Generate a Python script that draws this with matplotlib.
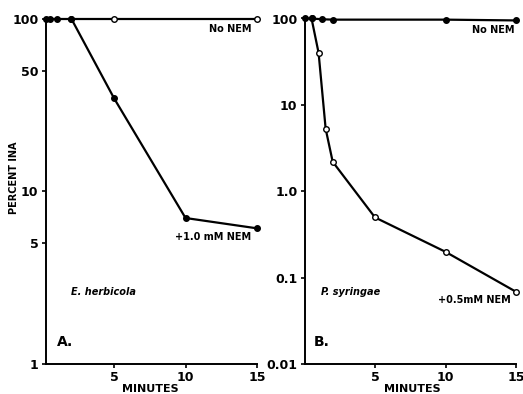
import matplotlib.pyplot as plt
from matplotlib.ticker import FixedLocator, FixedFormatter, NullLocator

# panel A: E. herbicola
a_ctrl_t = [0.25, 0.5, 1.0, 2.0, 5.0, 15.0]
a_ctrl_v = [100, 100, 100, 100, 100, 100]
a_ctrl_open = [False, False, False, False, True, True]
a_nem_t = [2.0, 5.0, 10.0, 15.0]
a_nem_v = [100, 34.5, 7.0, 6.1]

# panel B: P. syringae
b_ctrl_t = [0.0, 0.5, 1.25, 2.0, 10.0, 15.0]
b_ctrl_v = [100, 100, 98, 97, 97, 95]
b_nem_t = [0.5, 1.0, 1.5, 2.0, 5.0, 10.0, 15.0]
b_nem_v = [100, 40, 5.3, 2.2, 0.5, 0.2, 0.069]
b_nem_open = [False, True, True, True, True, True, True]

a_yticks = [1, 5, 10, 50, 100]
a_ylabels = ['1', '5', '10', '50', '100']
b_yticks = [0.01, 0.1, 1.0, 10, 100]
b_ylabels = ['0.01', '0.1', '1.0', '10', '100']
xticks = [5, 10, 15]

W, H = 523, 394
fig = plt.figure(figsize=(W / 100, H / 100), dpi=100)
axA = fig.add_axes([45.5 / W, 1 - 364 / H, (257 - 45.5) / W, (364 - 18.5) / H])
axB = fig.add_axes([304.5 / W, 1 - 364.3 / H, (516 - 304.5) / W, (364.3 - 18.5) / H])

lw = 1.6
fs = 9


def draw_series(ax, t, v, opens):
    ax.plot(t, v, color='black', lw=lw, clip_on=False, zorder=2)
    for x, y, o in zip(t, v, opens):
        ax.plot([x], [y], 'o', ms=4, mec='black', mew=1,
                mfc='white' if o else 'black', clip_on=False, zorder=3)


draw_series(axA, a_ctrl_t, a_ctrl_v, a_ctrl_open)
draw_series(axA, a_nem_t, a_nem_v, [False] * len(a_nem_t))
draw_series(axB, b_ctrl_t, b_ctrl_v, [False] * len(b_ctrl_t))
draw_series(axB, b_nem_t, b_nem_v, b_nem_open)

for ax, yt, yl, ylim in [(axA, a_yticks, a_ylabels, (1, 100)),
                         (axB, b_yticks, b_ylabels, (0.01, 100))]:
    ax.set_yscale('log')
    ax.set_ylim(*ylim)
    ax.set_xlim(0, 15)
    ax.yaxis.set_major_locator(FixedLocator(yt))
    ax.yaxis.set_major_formatter(FixedFormatter(yl))
    ax.yaxis.set_minor_locator(NullLocator())
    ax.set_xticks(xticks)
    ax.set_xticklabels([str(x) for x in xticks])
    for s in ['top', 'right']:
        ax.spines[s].set_visible(False)
    for s in ['left', 'bottom']:
        ax.spines[s].set_linewidth(1.4)
    ax.tick_params(axis='both', direction='out', length=3, width=1.2,
                   labelsize=fs, pad=2)
    for lab in ax.get_xticklabels() + ax.get_yticklabels():
        lab.set_fontweight('bold')

axA.set_xlim(0.2, 15)

fig.text(150 / W, 1 - 389 / H, 'MINUTES', ha='center', va='center',
         fontsize=8, fontweight='bold')
fig.text(412 / W, 1 - 389 / H, 'MINUTES', ha='center', va='center',
         fontsize=8, fontweight='bold')
fig.text(14 / W, 1 - 178 / H, 'PERCENT INA', ha='center', va='center',
         rotation=90, fontsize=7, fontweight='bold')

tf = 7
axA.text(14.6, 87, 'No NEM', ha='right', va='center', fontsize=tf, fontweight='heavy')
axA.text(14.6, 5.4, '+1.0 mM NEM', ha='right', va='center', fontsize=tf, fontweight='heavy')
axA.text(1.95, 2.6, 'E. herbicola', ha='left', va='center', fontsize=tf,
         fontweight='heavy', style='italic')
axA.text(1.0, 1.34, 'A.', ha='left', va='center', fontsize=10, fontweight='heavy')

axB.text(14.9, 74, 'No NEM', ha='right', va='center', fontsize=tf, fontweight='heavy')
axB.text(14.6, 0.056, '+0.5mM NEM', ha='right', va='center', fontsize=tf, fontweight='heavy')
axB.text(1.2, 0.068, 'P. syringae', ha='left', va='center', fontsize=tf,
         fontweight='heavy', style='italic')
axB.text(0.67, 0.018, 'B.', ha='left', va='center', fontsize=10, fontweight='heavy')

fig.savefig('out.png', dpi=100)
